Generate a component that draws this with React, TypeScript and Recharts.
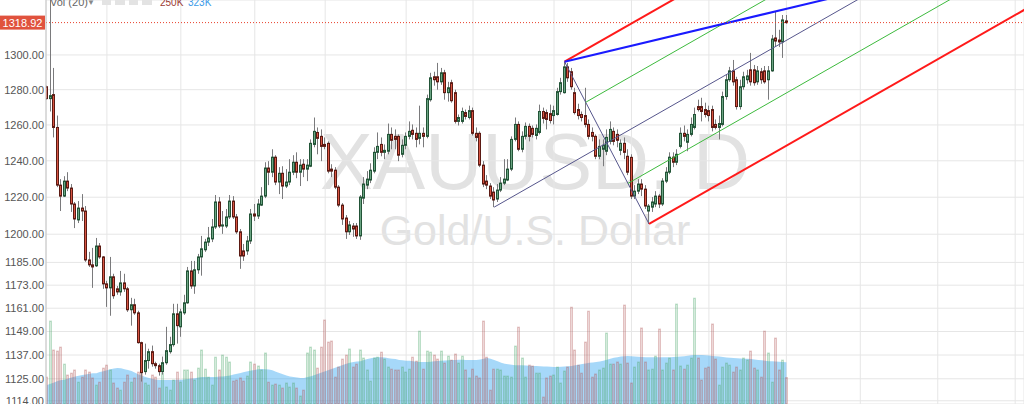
import React from 'react';
import { ComposedChart, Bar, Area, XAxis, YAxis, CartesianGrid, ReferenceLine } from 'recharts';

// ---------- data (XAUUSD daily, one value per bar) ----------
const OPEN = [
  1281.7, 1274.9, 1277.2, 1258.6, 1226.6, 1220.6, 1228.8, 1225.0, 1216.3, 1207.7,
  1214.1, 1212.5, 1186.3, 1183.7, 1183.2, 1193.7, 1187.9, 1173.7, 1171.6, 1177.4,
  1171.1, 1169.5, 1174.2, 1171.1, 1160.2, 1162.8, 1158.6, 1143.3, 1128.6, 1134.2,
  1138.7, 1132.6, 1131.6, 1128.6, 1133.1, 1138.7, 1142.3, 1158.1, 1151.4, 1158.6,
  1163.8, 1180.5, 1172.6, 1181.1, 1187.9, 1191.7, 1195.8, 1197.5, 1203.9, 1217.4,
  1204.4, 1204.4, 1209.3, 1217.9, 1209.3, 1201.3, 1191.1, 1191.1, 1196.4, 1210.9,
  1209.8, 1215.7, 1220.6, 1236.0, 1233.7, 1242.0, 1228.3, 1233.1, 1226.1, 1228.3,
  1233.7, 1239.2, 1233.7, 1238.1, 1235.4, 1237.0, 1249.1, 1255.8, 1253.6, 1249.1,
  1249.7, 1235.4, 1234.8, 1225.5, 1215.7, 1208.7, 1201.3, 1204.4, 1204.4, 1199.1,
  1219.5, 1226.6, 1229.4, 1234.3, 1244.7, 1249.1, 1244.7, 1245.3, 1254.7, 1253.6,
  1253.6, 1243.6, 1248.6, 1253.6, 1257.0, 1255.3, 1252.5, 1255.3, 1253.6, 1274.3,
  1287.4, 1287.4, 1284.5, 1289.7, 1278.3, 1284.0, 1278.3, 1262.0, 1262.0, 1267.0,
  1264.2, 1268.1, 1255.3, 1255.3, 1237.6, 1228.8, 1226.1, 1222.8, 1219.0, 1223.9,
  1227.7, 1229.4, 1235.4, 1251.9, 1260.3, 1246.4, 1253.6, 1259.2, 1258.1, 1254.1,
  1255.8, 1267.6, 1267.0, 1266.4, 1265.3, 1265.9, 1278.9, 1278.3, 1293.1, 1290.3,
  1278.3, 1268.7, 1265.9, 1265.3, 1260.3, 1255.8, 1253.6, 1242.5, 1246.4, 1245.3,
  1250.8, 1256.4, 1254.7, 1245.8, 1249.7, 1242.5, 1241.9, 1220.6, 1223.3, 1227.2,
  1224.4, 1212.5, 1214.6, 1216.3, 1220.6, 1216.3, 1228.8, 1233.7, 1242.0, 1239.2,
  1248.0, 1255.3, 1250.3, 1254.7, 1258.6, 1270.4, 1270.4, 1268.7, 1268.1, 1268.7,
  1260.3, 1258.6, 1260.3, 1276.1, 1285.7, 1290.8, 1285.7, 1270.4, 1281.7, 1285.7,
  1291.4, 1291.4, 1284.5, 1290.3, 1290.8, 1285.7, 1290.8, 1309.9, 1308.7, 1307.6, 1319.9,
];
const HIGH = [
  1282.3, 1337.0, 1292.5, 1265.3, 1229.9, 1231.5, 1233.7, 1227.2, 1217.4, 1217.9,
  1221.7, 1215.2, 1190.6, 1192.7, 1198.0, 1195.3, 1188.4, 1175.3, 1187.9, 1179.0,
  1172.6, 1180.5, 1179.0, 1172.1, 1166.4, 1165.9, 1159.7, 1143.8, 1142.8, 1140.2,
  1141.8, 1133.6, 1132.6, 1136.2, 1151.4, 1146.3, 1163.3, 1163.3, 1160.7, 1168.0,
  1182.6, 1185.8, 1185.8, 1189.5, 1199.1, 1197.5, 1203.9, 1208.2, 1221.2, 1220.1,
  1212.5, 1213.6, 1221.2, 1220.6, 1210.9, 1202.8, 1194.8, 1199.1, 1213.6, 1216.3,
  1219.0, 1225.5, 1239.2, 1239.8, 1246.4, 1243.1, 1236.5, 1237.0, 1235.4, 1240.9,
  1243.1, 1244.7, 1240.9, 1240.9, 1240.9, 1251.9, 1264.2, 1258.6, 1257.5, 1253.0,
  1250.8, 1238.1, 1236.5, 1226.6, 1216.8, 1210.3, 1207.1, 1206.0, 1206.0, 1221.2,
  1231.0, 1234.3, 1238.6, 1247.5, 1255.8, 1253.0, 1249.1, 1260.8, 1258.6, 1257.5,
  1254.7, 1251.9, 1255.8, 1262.0, 1260.3, 1258.6, 1270.9, 1258.6, 1277.2, 1289.7,
  1290.3, 1295.4, 1292.5, 1291.4, 1284.5, 1285.7, 1280.0, 1265.9, 1269.8, 1268.7,
  1270.9, 1269.8, 1258.6, 1256.4, 1239.8, 1232.1, 1227.7, 1225.5, 1227.2, 1231.0,
  1240.9, 1240.9, 1253.6, 1264.2, 1262.0, 1256.4, 1261.4, 1260.8, 1259.7, 1260.3,
  1271.5, 1269.8, 1268.7, 1271.5, 1270.9, 1281.1, 1286.8, 1296.1, 1295.4, 1292.5,
  1281.1, 1272.0, 1267.6, 1281.1, 1263.1, 1258.6, 1254.7, 1251.9, 1251.9, 1257.5,
  1262.0, 1258.6, 1257.5, 1251.9, 1253.0, 1246.4, 1243.6, 1226.6, 1229.9, 1229.9,
  1226.6, 1216.3, 1220.1, 1223.3, 1221.7, 1230.4, 1236.5, 1244.7, 1244.7, 1246.4,
  1258.6, 1259.7, 1257.5, 1264.2, 1269.8, 1274.3, 1275.4, 1272.6, 1270.9, 1270.9,
  1263.1, 1265.3, 1278.9, 1288.5, 1293.1, 1297.1, 1287.4, 1285.7, 1290.3, 1291.4,
  1301.2, 1294.2, 1293.6, 1292.5, 1293.6, 1293.6, 1311.7, 1325.2, 1314.7, 1323.4, 1323.4,
];
const LOW = [
  1274.3, 1267.6, 1253.0, 1225.5, 1212.5, 1220.1, 1223.3, 1212.0, 1203.3, 1206.0,
  1207.1, 1185.3, 1182.6, 1171.6, 1182.6, 1186.9, 1171.1, 1161.7, 1157.1, 1165.9,
  1168.0, 1167.5, 1169.5, 1159.1, 1152.0, 1157.6, 1142.8, 1123.6, 1127.1, 1130.1,
  1131.1, 1130.1, 1126.6, 1127.1, 1132.1, 1137.7, 1141.3, 1142.8, 1146.3, 1157.6,
  1163.3, 1171.1, 1168.5, 1179.0, 1178.0, 1190.6, 1193.7, 1195.8, 1202.8, 1203.3,
  1200.2, 1203.3, 1208.2, 1208.2, 1200.2, 1181.6, 1185.8, 1189.0, 1194.8, 1207.1,
  1208.2, 1215.2, 1219.5, 1226.6, 1231.0, 1226.6, 1221.7, 1219.0, 1225.0, 1226.6,
  1232.1, 1230.4, 1226.1, 1231.0, 1228.8, 1236.5, 1247.5, 1243.6, 1239.8, 1246.4,
  1233.1, 1231.0, 1224.4, 1214.6, 1205.0, 1197.5, 1199.6, 1198.6, 1197.5, 1197.0,
  1216.3, 1224.4, 1227.7, 1233.1, 1240.9, 1242.5, 1240.9, 1243.6, 1246.4, 1246.4,
  1239.8, 1241.9, 1246.4, 1251.9, 1251.9, 1247.5, 1249.1, 1247.5, 1252.5, 1273.2,
  1282.3, 1280.0, 1282.8, 1274.3, 1273.2, 1272.6, 1260.8, 1259.7, 1260.8, 1263.1,
  1263.1, 1254.1, 1250.8, 1236.5, 1225.5, 1224.4, 1219.0, 1214.6, 1217.4, 1222.8,
  1226.6, 1228.8, 1234.3, 1250.8, 1245.3, 1244.7, 1251.9, 1250.8, 1253.0, 1251.9,
  1254.7, 1260.8, 1257.5, 1260.8, 1260.3, 1265.3, 1277.2, 1277.8, 1284.5, 1280.0,
  1265.9, 1263.1, 1262.0, 1258.6, 1251.9, 1250.8, 1240.9, 1240.9, 1237.0, 1243.1,
  1249.1, 1248.6, 1247.5, 1243.1, 1240.9, 1232.1, 1219.0, 1219.0, 1221.7, 1220.6,
  1213.6, 1205.5, 1212.0, 1214.6, 1214.1, 1215.2, 1227.7, 1232.6, 1236.5, 1237.6,
  1246.9, 1250.8, 1245.3, 1253.6, 1257.5, 1267.6, 1262.0, 1264.2, 1262.0, 1256.4,
  1257.5, 1251.9, 1259.2, 1274.3, 1284.5, 1282.3, 1268.7, 1268.7, 1280.0, 1283.4,
  1282.3, 1282.3, 1282.8, 1283.4, 1283.4, 1274.3, 1290.3, 1305.2, 1304.6, 1298.3, 1318.2,
];
const CLOSE = [
  1274.9, 1276.6, 1258.6, 1226.6, 1220.6, 1228.8, 1225.0, 1216.3, 1208.2, 1214.1,
  1212.5, 1186.3, 1183.7, 1182.6, 1193.7, 1187.9, 1173.7, 1171.6, 1177.4, 1167.5,
  1169.5, 1174.2, 1171.1, 1160.2, 1162.8, 1158.6, 1143.3, 1128.1, 1134.2, 1138.7,
  1132.6, 1131.6, 1128.6, 1133.1, 1139.2, 1142.3, 1158.1, 1152.0, 1159.1, 1163.8,
  1180.5, 1172.6, 1181.1, 1187.9, 1192.2, 1195.8, 1198.0, 1203.9, 1217.4, 1204.4,
  1205.0, 1209.3, 1217.9, 1209.3, 1201.3, 1188.4, 1188.4, 1196.4, 1210.9, 1209.8,
  1216.3, 1220.6, 1236.0, 1233.7, 1242.0, 1228.3, 1233.1, 1226.1, 1228.3, 1233.7,
  1239.2, 1233.7, 1237.6, 1235.4, 1237.6, 1249.7, 1256.4, 1252.5, 1248.0, 1248.0,
  1234.3, 1234.3, 1225.5, 1215.7, 1208.2, 1201.3, 1205.0, 1202.8, 1199.1, 1220.1,
  1227.2, 1229.9, 1234.8, 1244.7, 1248.0, 1244.7, 1245.8, 1254.7, 1251.4, 1251.9,
  1243.1, 1248.6, 1253.6, 1256.4, 1254.7, 1251.9, 1255.3, 1253.6, 1274.9, 1286.8,
  1285.7, 1284.5, 1289.7, 1278.3, 1281.1, 1273.7, 1262.0, 1264.2, 1267.6, 1264.8,
  1268.1, 1255.3, 1253.0, 1237.6, 1227.2, 1226.6, 1220.6, 1218.5, 1223.9, 1227.7,
  1229.9, 1235.4, 1251.9, 1260.3, 1246.4, 1253.6, 1259.2, 1253.6, 1254.7, 1258.1,
  1267.6, 1263.7, 1263.1, 1262.5, 1268.1, 1278.9, 1284.0, 1293.1, 1286.8, 1281.7,
  1267.0, 1265.3, 1264.2, 1260.3, 1253.6, 1253.6, 1242.5, 1248.0, 1248.6, 1253.0,
  1257.5, 1250.8, 1251.4, 1249.7, 1244.7, 1233.7, 1220.6, 1223.3, 1227.2, 1224.4,
  1215.2, 1215.2, 1217.4, 1220.6, 1216.3, 1228.8, 1233.7, 1242.0, 1239.2, 1243.6,
  1255.3, 1253.6, 1254.7, 1260.3, 1265.9, 1268.7, 1267.6, 1265.9, 1265.3, 1258.6,
  1258.6, 1260.8, 1276.1, 1285.7, 1290.8, 1284.5, 1270.4, 1281.7, 1287.4, 1287.9,
  1284.5, 1284.0, 1290.8, 1285.7, 1284.5, 1290.8, 1309.3, 1308.1, 1307.6, 1320.5, 1318.92,
];
// volume, thousands
const VOLUME = [
  252, 519, 381, 376, 395, 314, 262, 271, 286, 228,
  252, 286, 276, 248, 214, 228, 295, 309, 286, 224,
  200, 190, 228, 262, 228, 248, 276, 276, 224, 214,
  262, 252, 200, 271, 205, 190, 238, 276, 228, 286,
  286, 276, 238, 295, 381, 290, 252, 214, 347, 286,
  357, 347, 324, 233, 238, 248, 233, 257, 324, 314,
  305, 286, 367, 228, 214, 219, 214, 200, 224, 205,
  224, 200, 162, 190, 367, 395, 381, 295, 395, 524,
  419, 424, 252, 300, 338, 357, 386, 300, 314, 381,
  343, 286, 233, 343, 347, 371, 338, 300, 290, 286,
  286, 300, 276, 290, 347, 328, 471, 290, 376, 371,
  357, 338, 376, 319, 352, 333, 362, 319, 352, 286,
  248, 290, 257, 248, 519, 347, 190, 290, 290, 286,
  257, 257, 252, 400, 490, 343, 252, 309, 305, 271,
  271, 157, 248, 257, 262, 300, 224, 281, 300, 585,
  381, 309, 271, 419, 566, 252, 267, 286, 295, 462,
  314, 314, 324, 314, 595, 319, 224, 300, 324, 486,
  324, 286, 290, 352, 481, 286, 319, 343, 286, 600,
  305, 290, 309, 343, 628, 343, 238, 295, 300, 505,
  338, 214, 300, 319, 309, 276, 300, 286, 343, 333,
  376, 295, 286, 252, 471, 367, 228, 438, 286, 333, 250,
];
// Vol (20) moving average, thousands
const VOLUME_MA = [
  214, 220, 226, 233, 238, 240, 245, 250, 255, 258,
  262, 265, 268, 270, 271, 276, 280, 285, 290, 293,
  295, 294, 290, 286, 281, 273, 265, 258, 252, 248,
  243, 240, 238, 238, 238, 238, 238, 240, 240, 241,
  243, 245, 247, 250, 252, 252, 252, 252, 253, 255,
  255, 257, 260, 264, 268, 272, 276, 280, 284, 286,
  290, 291, 290, 288, 285, 278, 272, 266, 260, 255,
  252, 250, 248, 248, 252, 256, 262, 268, 274, 280,
  286, 292, 298, 304, 310, 316, 320, 324, 326, 328,
  333, 338, 342, 345, 347, 347, 345, 342, 340, 338,
  334, 332, 330, 330, 328, 325, 324, 324, 324, 325,
  327, 329, 330, 331, 332, 333, 334, 335, 335, 334,
  333, 333, 334, 336, 340, 343, 340, 334, 327, 320,
  316, 313, 311, 309, 309, 308, 307, 306, 305, 305,
  304, 303, 302, 301, 300, 300, 301, 302, 304, 305,
  308, 311, 314, 317, 320, 322, 324, 326, 330, 335,
  340, 344, 347, 350, 352, 353, 352, 350, 349, 348,
  347, 347, 347, 347, 347, 347, 347, 347, 348, 349,
  350, 352, 354, 356, 357, 357, 357, 356, 355, 353,
  352, 350, 348, 346, 344, 343, 342, 341, 340, 339,
  338, 336, 334, 332, 330, 328, 327, 326, 325, 324, 323,
];
// bar index of the first bar of each month (Dec 2016 ... Dec 2017)
const MONTH_STARTS = [17, 38, 59, 79, 102, 121, 144, 166, 188, 210, 231, 253, 275];
const PRICE_TICKS = [1114, 1125, 1137, 1149, 1161, 1173, 1185, 1200, 1220, 1240, 1260, 1280, 1300];
const LAST_PRICE = 1318.92;
const LAST_VOLUME = '250K';
const LAST_VOLUME_MA = '323K';
// Andrews pitchfork anchors [bar index, price]
const PF_A: [number, number] = [127, 1214.6];
const PF_B: [number, number] = [147, 1296.1];
const PF_C: [number, number] = [171, 1205.5];
// blue trend line anchors
const TREND_LINE: [number, number][] = [[147, 1296.1], [220.5, 1332.3]];

// ---------- layout / style ----------
const W = 1024;
const H = 404;
const X_DOMAIN: [number, number] = [-0.3, 277.5];
const PRICE_DOMAIN: [number, number] = [1112.4, 1332.3];
const VOL_DOMAIN: [number, number] = [124, 2048];
const FONT = '"Liberation Sans", Arial, sans-serif';
const UP = '#6ba583', UP_B = '#225437', DN = '#d75442', DN_B = '#5b1a13', WICK = '#7a7a7c';

const data = OPEN.map((o, i) => ({
  i, o, h: HIGH[i], l: LOW[i], c: CLOSE[i], vol: VOLUME[i], ma: VOLUME_MA[i],
}));

// ray in (index, log price) space
const ray = (p0: [number, number], slope: number, to: number): [number, number] =>
  [to, Math.exp(Math.log(p0[1]) + slope * (to - p0[0]))];
const mid = (p: [number, number], q: [number, number]): [number, number] =>
  [(p[0] + q[0]) / 2, Math.sqrt(p[1] * q[1])];
const PF_M = mid(PF_B, PF_C);
const PF_SLOPE = (Math.log(PF_M[1]) - Math.log(PF_A[1])) / (PF_M[0] - PF_A[0]);
const END = 320;
const trendSlope = (Math.log(TREND_LINE[1][1]) - Math.log(TREND_LINE[0][1])) / (TREND_LINE[1][0] - TREND_LINE[0][0]);
const G1 = mid(PF_B, PF_M);
const G2 = mid(PF_M, PF_C);
const LINES: { p0: [number, number]; p1: [number, number]; color: string; w: number }[] = [
  { p0: PF_B, p1: PF_C, color: '#56568c', w: 1 },
  { p0: PF_A, p1: ray(PF_A, PF_SLOPE, END), color: '#56568c', w: 1 },
  { p0: G1, p1: ray(G1, PF_SLOPE, END), color: '#3dba3d', w: 1 },
  { p0: G2, p1: ray(G2, PF_SLOPE, END), color: '#3dba3d', w: 1 },
  { p0: PF_B, p1: ray(PF_B, PF_SLOPE, END), color: '#ff1a1a', w: 2 },
  { p0: PF_C, p1: ray(PF_C, PF_SLOPE, END), color: '#ff1a1a', w: 2 },
  { p0: TREND_LINE[0], p1: ray(TREND_LINE[0], trendSlope, END), color: '#1a1aff', w: 2 },
];

const Candle = (props: any) => {
  const { x, y, width, height, payload } = props;
  if (x == null || y == null || !payload) return null;
  const top = Math.min(y, y + height);
  const hh = Math.abs(height);
  const lnH = Math.log(payload.h);
  const span = lnH - Math.log(payload.l) || 1;
  const py = (p: number) => top + (hh * (lnH - Math.log(p))) / span;
  const cx = x + width / 2;
  const left = Math.round(cx - 1.5) + 0.5;
  const up = payload.c >= payload.o;
  const yo = py(payload.o), yc = py(payload.c);
  const bt = Math.min(yo, yc);
  const bh = Math.max(Math.abs(yo - yc), 1);
  return (
    <g>
      <line x1={left + 1} x2={left + 1} y1={top} y2={top + hh} stroke={WICK} strokeWidth={1} />
      <rect x={left} y={bt} width={2} height={bh} fill={up ? UP : DN} stroke={up ? UP_B : DN_B} strokeWidth={1} />
    </g>
  );
};

const VolumeBar = (props: any) => {
  const { x, y, width, height, payload } = props;
  if (x == null || y == null || !payload) return null;
  const up = payload.c >= payload.o;
  const cx = x + width / 2;
  const left = Math.round(cx - 1.5) + 0.5;
  const col = up ? '#4fa86c' : '#b25a5a';
  return (
    <rect x={left} y={y} width={2} height={Math.max(height, 0)} fill={col} fillOpacity={0.24} stroke={col} strokeOpacity={0.3} strokeWidth={1} />
  );
};

const PriceTag = (props: any) => {
  const vb = props.viewBox || {};
  const yy = vb.y ?? 0;
  const xx = vb.x ?? 46;
  return (
    <g>
      <rect x={0} y={yy - 7} width={xx - 1} height={14} fill="#e0523d" />
      <text x={(xx - 1) / 2} y={yy} dy="0.36em" textAnchor="middle" fill="#fff" fontSize={11} fontFamily={FONT}>
        {LAST_PRICE.toFixed(2)}
      </text>
    </g>
  );
};

export default function App() {
  return (
    <div style={{ position: 'absolute', left: 0, top: 0, width: W, height: H, overflow: 'hidden', background: '#fff' }}>
      <svg width={W} height={H} style={{ position: 'absolute', left: 0, top: 0 }}>
        <text x={535} y={189} textAnchor="middle" fontFamily={FONT} fontSize={79} fill="#e2e2e2">XAUUSD, D</text>
        <text x={535} y={245} textAnchor="middle" fontFamily={FONT} fontSize={43} fill="#e2e2e2">Gold/U.S. Dollar</text>
      </svg>
      <div style={{ position: 'absolute', left: 0, top: 0 }}>
        <ComposedChart width={W} height={H} data={data} margin={{ top: 0, right: 0, bottom: 0, left: 0 }}>
          <XAxis xAxisId={0} type="number" dataKey="i" domain={X_DOMAIN} allowDataOverflow ticks={MONTH_STARTS} hide />
          <XAxis xAxisId="v" type="number" dataKey="i" domain={X_DOMAIN} allowDataOverflow hide />
          <YAxis
            yAxisId={0}
            orientation="left"
            width={46}
            type="number"
            scale="log"
            domain={PRICE_DOMAIN}
            allowDataOverflow
            ticks={PRICE_TICKS}
            interval={0}
            tickFormatter={(v: number) => v.toFixed(2)}
            tick={{ fontSize: 11, fill: '#555', fontFamily: FONT }}
            tickSize={0}
            tickMargin={2}
            tickLine={false}
            axisLine={{ stroke: '#c4c4c4' }}
          />
          <YAxis yAxisId="v" orientation="right" type="number" domain={VOL_DOMAIN} allowDataOverflow hide />
          <CartesianGrid xAxisId={0} yAxisId={0} stroke="#e6e6e6" />
          <Bar xAxisId="v" yAxisId="v" dataKey="vol" barSize={3} shape={<VolumeBar />} isAnimationActive={false} />
          <Area xAxisId="v" yAxisId="v" dataKey="ma" type="linear" stroke="none" fill="#3aa8f2" fillOpacity={0.45} isAnimationActive={false} />
          <Bar xAxisId={0} yAxisId={0} dataKey={(d: any) => [d.l, d.h]} barSize={3} shape={<Candle />} isAnimationActive={false} />
          {LINES.map((ln, k) => (
            <ReferenceLine
              key={k}
              xAxisId={0}
              yAxisId={0}
              segment={[{ x: ln.p0[0], y: ln.p0[1] }, { x: ln.p1[0], y: ln.p1[1] }]}
              stroke={ln.color}
              strokeWidth={ln.w}
              ifOverflow="hidden"
            />
          ))}
          <ReferenceLine xAxisId={0} yAxisId={0} y={LAST_PRICE} stroke="#e8412c" strokeDasharray="1 2" label={<PriceTag />} />
        </ComposedChart>
      </div>
      <svg width={W} height={H} style={{ position: 'absolute', left: 0, top: 0, pointerEvents: 'none' }}>
        <text x={50} y={6} fontFamily={FONT} fontSize={11} fill="#666">Vol (20)</text>
        <text x={87} y={5} fontFamily={FONT} fontSize={8} fill="#888">▼</text>
        <rect x={102} y={-5} width={9} height={10} fill="#e3e3e3" />
        <rect x={115} y={-5} width={10} height={10} fill="#e3e3e3" />
        <rect x={129} y={-5} width={9} height={10} fill="#e3e3e3" />
        <rect x={142} y={-5} width={10} height={10} fill="#e3e3e3" />
        <text x={160} y={6} fontFamily={FONT} fontSize={10} fill="#9b3b33">{LAST_VOLUME}</text>
        <text x={188} y={6} fontFamily={FONT} fontSize={10} fill="#3a9ae8">{LAST_VOLUME_MA}</text>
      </svg>
    </div>
  );
}
